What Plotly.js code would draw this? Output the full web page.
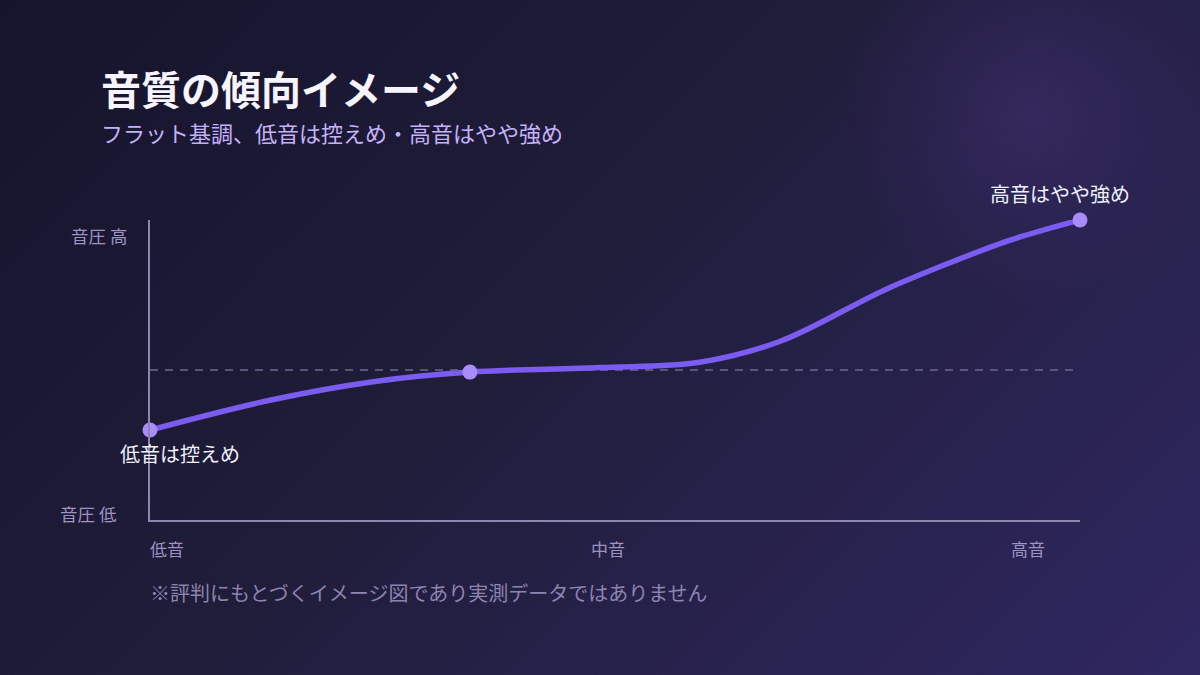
<!DOCTYPE html>
<html>
<head>
<meta charset="utf-8">
<script src="https://cdn.plot.ly/plotly-3.0.1.min.js"></script>
<style>
  html, body { margin: 0; padding: 0; }
  body {
    width: 1200px; height: 675px; overflow: hidden;
    background:
      radial-gradient(circle at 1033px 117px, rgba(58,45,102,0.7) 0px, rgba(52,40,95,0.4) 100px, rgba(40,32,75,0) 190px),
      linear-gradient(135deg, #16132c 0%, #201d3a 45%, #2f2760 100%);
  }
  #chart { width: 1200px; height: 675px; }
</style>
</head>
<body>
<div id="chart"></div>
<script>
// frequency position (0 = low end, 1 = high end) and perceived level (0-100)
var curveX = [0, 0.13, 0.24, 0.344, 0.484, 0.591, 0.677, 0.79, 0.868, 0.925, 1];
var curveY = [30, 40, 46.1, 49.3, 50.8, 52.6, 59.5, 76.7, 86.7, 93.3, 100];

// highlighted points
var pointX = [0, 0.344, 1];
var pointY = [30, 49.3, 100];

var flatLevel = 50;

var bandNames = ["低音", "中音", "高音"];
var bandPos = [0.018, 0.492, 0.944];

var levelNames = ["音圧 高", "音圧 低"];
var levelPos = [95, 2.3];

var font = "Noto Sans CJK JP, Noto Sans, sans-serif";

var data = [
  {
    type: "scatter",
    mode: "lines",
    x: curveX,
    y: curveY,
    line: { color: "#7b5cf0", width: 5.5, shape: "spline", smoothing: 1 },
    hoverinfo: "skip",
    cliponaxis: false
  },
  {
    type: "scatter",
    mode: "markers",
    x: pointX,
    y: pointY,
    marker: { color: "#a98cfa", size: 15 },
    cliponaxis: false
  }
];

var annotations = [
  { text: "音質の傾向イメージ", xref: "paper", yref: "paper", x: -0.0548, y: 1.44,
    xanchor: "left", yanchor: "middle", showarrow: false,
    font: { family: font, size: 40, color: "#f6f4ff", weight: "bold" } },
  { text: "フラット基調、低音は控えめ・高音はやや強め", xref: "paper", yref: "paper", x: -0.0548, y: 1.293,
    xanchor: "left", yanchor: "middle", showarrow: false,
    font: { family: font, size: 22, color: "#c3b2fb" } },
  { text: "※評判にもとづくイメージ図であり実測データではありません", xref: "paper", yref: "paper", x: -0.002, y: -0.243,
    xanchor: "left", yanchor: "middle", showarrow: false,
    font: { family: font, size: 20, color: "#8d84b0" } },
  { text: "低音は控えめ", x: pointX[0], y: pointY[0], xshift: 30, yshift: -23,
    xanchor: "center", yanchor: "middle", showarrow: false,
    font: { family: font, size: 20, color: "#eef0ff" } },
  { text: "高音はやや強め", x: pointX[2], y: pointY[2], xshift: -20, yshift: 27,
    xanchor: "center", yanchor: "middle", showarrow: false,
    font: { family: font, size: 20, color: "#eef0ff" } }
];

bandNames.forEach(function (name, i) {
  annotations.push({
    text: name, x: bandPos[i], xref: "x", y: 0, yref: "paper", yshift: -28,
    xanchor: "center", yanchor: "middle", showarrow: false,
    font: { family: font, size: 17, color: "#9d93c2" }
  });
});

levelNames.forEach(function (name, i) {
  annotations.push({
    text: name, x: 0, xref: "paper", y: levelPos[i], yref: "y", xshift: i === 0 ? -21 : -31,
    xanchor: "right", yanchor: "middle", showarrow: false,
    font: { family: font, size: 17.5, color: "#9d93c2" }
  });
});

var layout = {
  width: 1200,
  height: 675,
  margin: { l: 150, r: 120, t: 220, b: 155 },
  paper_bgcolor: "rgba(0,0,0,0)",
  plot_bgcolor: "rgba(0,0,0,0)",
  showlegend: false,
  font: { family: font },
  xaxis: {
    range: [0, 1], showgrid: false, zeroline: false, showticklabels: false, ticks: "",
    showline: true, linecolor: "#8f86b0", linewidth: 2, fixedrange: true
  },
  yaxis: {
    range: [0, 100], showgrid: false, zeroline: false, showticklabels: false, ticks: "",
    showline: true, linecolor: "#8f86b0", linewidth: 2, fixedrange: true
  },
  shapes: [
    { type: "line", xref: "paper", x0: 0, x1: 1, yref: "y", y0: flatLevel, y1: flatLevel,
      line: { color: "#6f6792", width: 1.5, dash: "8px,7px" }, layer: "below" }
  ],
  annotations: annotations
};

Plotly.newPlot("chart", data, layout, { displayModeBar: false, staticPlot: true });
</script>
</body>
</html>
